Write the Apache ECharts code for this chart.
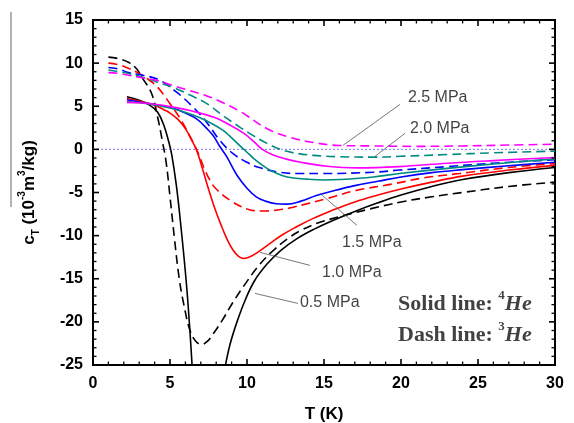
<!DOCTYPE html>
<html><head><meta charset="utf-8">
<script src="https://cdn.jsdelivr.net/npm/echarts@6/dist/echarts.min.js"></script>
<style>html,body{margin:0;padding:0;background:#fff}#c{width:574px;height:423px}</style>
</head><body><div id="c"></div>
<script>
// ---- data: [T (K), c_T (1e-3 m^3/kg)] ----
const he4_05 = [[2.2,6.1],[3.0,5.7],[3.7,5.1],[4.2,4.3],[4.6,2.8],[4.9,1.0],[5.1,-0.5],[5.4,-4.0],[5.65,-7.9],[6.1,-16.3],[6.45,-25.5],null,[8.55,-25.5],[8.9,-22.6],[9.35,-20.0],[9.9,-17.4],[10.5,-15.2],[11.3,-13.3],[12.2,-11.7],[13.2,-10.4],[14.3,-9.3],[15.5,-8.3],[17,-7.2],[18.5,-6.2],[20,-5.3],[22,-4.3],[24,-3.5],[27,-2.7],[30,-2.1]];
const he3_05 = [[1.0,10.7],[1.7,10.5],[2.3,10.1],[2.8,9.4],[3.2,8.3],[3.8,6.5],[4.2,3.7],[4.5,1.0],[4.75,-1.5],[5.0,-5.5],[5.3,-10.5],[5.6,-15],[5.9,-18],[6.3,-21],[6.7,-22.3],[7.05,-22.6],[7.4,-22.3],[7.8,-21.4],[8.4,-19.8],[9.1,-17.7],[10,-15.3],[10.8,-13.4],[11.6,-11.9],[12.6,-10.4],[13.5,-9.4],[14.5,-8.6],[16,-7.8],[18,-6.9],[20,-6.1],[22,-5.5],[24,-5.0],[27,-4.3],[30,-3.8]];
const he4_10 = [[2.2,5.9],[3.0,5.6],[3.7,5.3],[4.15,5.0],[4.6,4.6],[5.0,4.2],[5.5,3.5],[6.0,2.4],[6.4,1.1],[6.75,-0.2],[7.1,-2.2],[7.5,-4.6],[7.9,-6.8],[8.3,-8.7],[8.7,-10.4],[9.1,-11.7],[9.45,-12.4],[9.8,-12.65],[10.2,-12.45],[10.8,-11.8],[11.5,-10.9],[12.3,-9.9],[13.2,-9.0],[14.3,-8.0],[15.5,-7.1],[17,-6.1],[18.5,-5.3],[20,-4.6],[22,-3.8],[24,-3.1],[27,-2.4],[30,-1.85]];
const he3_10 = [[1.0,10.0],[1.7,9.8],[2.3,9.4],[3.0,8.8],[3.6,8.1],[4.2,7.2],[5.0,5.3],[5.65,3.6],[6.3,1.5],[6.8,-0.3],[7.2,-2.1],[7.6,-3.6],[8.0,-4.6],[8.9,-5.9],[10,-6.9],[11,-7.15],[12.3,-6.95],[13,-6.7],[15.2,-5.7],[17,-4.8],[19.5,-4.0],[21.5,-3.3],[23.8,-2.8],[27,-2.1],[30,-1.65]];
const he4_15 = [[2.2,5.75],[3.0,5.5],[4.0,5.2],[5.2,4.8],[6.0,4.2],[6.75,3.5],[7.4,2.4],[7.8,1.6],[8.25,0.3],[8.7,-0.9],[9.35,-3.0],[10,-4.5],[10.6,-5.5],[11.2,-6.0],[11.9,-6.3],[12.6,-6.35],[13.5,-6.0],[14.5,-5.35],[15.5,-4.85],[17,-4.2],[18.5,-3.7],[20,-3.2],[22,-2.7],[24,-2.35],[27,-1.9],[30,-1.5]];
const he3_15 = [[1.0,9.5],[1.7,9.3],[2.3,8.9],[3.25,8.6],[4.35,8.0],[5.45,6.6],[6.5,4.9],[7.4,3.1],[8.25,1.0],[9.1,-0.5],[10,-1.5],[10.8,-2.1],[12.1,-2.65],[13.5,-2.8],[14.9,-2.8],[18.2,-2.65],[19.9,-2.4],[23,-2.0],[26,-1.6],[30,-1.2]];
const he4_20 = [[2.2,5.55],[3.0,5.4],[4.2,5.1],[5.2,4.7],[6.3,4.1],[7.4,3.3],[8.45,2.2],[8.9,1.5],[9.55,0.4],[10.1,-0.5],[10.6,-1.3],[11.3,-2.2],[11.7,-2.6],[12.6,-3.2],[13.9,-3.45],[15,-3.55],[16,-3.5],[18.2,-3.2],[19.9,-2.8],[23,-2.2],[26,-1.7],[30,-1.1]];
const he3_20 = [[1.0,9.2],[1.7,9.0],[2.3,8.8],[3.2,8.4],[4.15,7.8],[5.2,7.2],[6.3,6.3],[7.4,5.3],[8.45,3.9],[9.6,2.5],[10.4,1.6],[11.3,0.7],[12.1,0.05],[12.9,-0.35],[14.3,-0.7],[16,-0.85],[18.2,-0.9],[20,-0.8],[23,-0.6],[26,-0.4],[30,-0.2]];
const he4_25 = [[2.2,5.45],[3.0,5.4],[4.15,5.2],[5.2,4.9],[6.3,4.5],[7.9,3.7],[8.7,3.0],[9.8,1.85],[10.5,0.8],[11.0,0.0],[11.7,-0.65],[12.5,-1.1],[13.5,-1.5],[15.2,-1.95],[17.1,-2.15],[19.9,-2.0],[23,-1.6],[26,-1.3],[30,-0.95]];
const he3_25 = [[1.0,8.9],[1.7,8.8],[2.3,8.6],[3.2,8.3],[4.15,8.0],[5.2,7.4],[6.3,6.8],[7.4,6.2],[8.45,5.4],[9.55,4.4],[10,3.9],[11.3,2.4],[12.6,1.5],[14.3,0.8],[16,0.45],[18.2,0.4],[21,0.35],[24,0.4],[27,0.5],[30,0.6]];
const zeroLine = [[0,0],[30,0]];
// axis ticks
const xMajorTicks = [0,5,10,15,20,25,30];
const yMajorTicks = [-25,-20,-15,-10,-5,0,5,10,15];
const minorPerMajor = 5;
// pressure annotations
const pressureLabels = ['2.5 MPa','2.0 MPa','1.5 MPa','1.0 MPa','0.5 MPa'];
const leaderFrom = [[16.23,0.46],[18.31,-0.81],[14.74,-5.10],[10.84,-11.94],[10.52,-16.70]];
const leaderTo   = [[19.94,5.22],[20.26,1.86],[17.14,-8.81],[14.09,-13.45],[13.31,-17.86]];
const labelPos   = [[20.45,6.03],[20.58,2.43],[16.17,-10.78],[14.87,-14.26],[13.44,-17.74]];
const noteText = ['{b|Solid line: }{s|4}{i|He}','{b|Dash line: }{s|3}{i|He}'];
const notePos = [[19.81,-17.74],[19.81,-21.33]];

const colors = {k:'#000000', r:'#ff0000', b:'#0000ff', t:'#008b80', m:'#ff00ff'};
const chart = echarts.init(document.getElementById('c'), null, {renderer:'canvas'});

function curve(data, color, dashed){
  return {type:'line', data:data, xAxisIndex:0, yAxisIndex:0, showSymbol:false, symbol:'none',
    smooth:0.4, connectNulls:false, clip:true, silent:true,
    lineStyle:{color:color, width:1.6, type: dashed ? [9,5] : 'solid'}, z:3};
}
const series = [
  {type:'line', data:zeroLine, showSymbol:false, symbol:'none', silent:true,
   lineStyle:{color:'#8f8fff', width:1.2, type:[2,2]}, z:2},
  curve(he3_05, colors.k, true), curve(he3_10, colors.r, true), curve(he3_15, colors.b, true),
  curve(he3_20, colors.t, true), curve(he3_25, colors.m, true),
  curve(he4_05, colors.k, false), curve(he4_10, colors.r, false), curve(he4_15, colors.b, false),
  curve(he4_20, colors.t, false), curve(he4_25, colors.m, false)
];
pressureLabels.forEach((lab,i)=>{
  series.push({type:'line', data:[leaderFrom[i], leaderTo[i]], showSymbol:false, symbol:'none', silent:true,
    lineStyle:{color:'#555', width:0.8}, z:4});
});
series.push({type:'scatter', symbolSize:0, silent:true, z:5,
  data: pressureLabels.map((lab,i)=>[labelPos[i][0], labelPos[i][1], lab]),
  label:{show:true, position:'right', distance:0, formatter:p=>p.data[2],
    fontFamily:'Liberation Sans, Arial, sans-serif', fontSize:16, color:'#111'}});
const serif = 'Liberation Serif, Times New Roman, serif';
series.push({type:'scatter', symbolSize:0, silent:true, z:5,
  data: noteText.map((t,i)=>[notePos[i][0], notePos[i][1], t]),
  label:{show:true, position:'right', distance:0, formatter:p=>p.data[2],
    rich:{
      b:{fontFamily:serif, fontWeight:'bold', fontSize:22, color:'#111', lineHeight:26, verticalAlign:'bottom'},
      s:{fontFamily:serif, fontWeight:'bold', fontSize:13, color:'#111', lineHeight:26, verticalAlign:'top'},
      i:{fontFamily:serif, fontWeight:'bold', fontStyle:'italic', fontSize:22, color:'#111', lineHeight:26, verticalAlign:'bottom'}
    }}});

// inward ticks on all four sides, drawn by a custom series through the chart's own scales
const xMin = xMajorTicks[0], xMax = xMajorTicks[xMajorTicks.length-1];
const yMin = yMajorTicks[0], yMax = yMajorTicks[yMajorTicks.length-1];
const xStep = (xMajorTicks[1]-xMajorTicks[0])/minorPerMajor;
const yStep = (yMajorTicks[1]-yMajorTicks[0])/minorPerMajor;
const tickData = [];
for (let i=0; i<=Math.round((xMax-xMin)/xStep); i++) tickData.push([xMin + i*xStep, 0, i % minorPerMajor === 0 ? 1 : 0]);
for (let i=0; i<=Math.round((yMax-yMin)/yStep); i++) tickData.push([yMin + i*yStep, 1, i % minorPerMajor === 0 ? 1 : 0]);
series.push({type:'custom', silent:true, clip:false, z:10, data:tickData,
  renderItem:function(params, api){
    const v = api.value(0), kind = api.value(1), major = api.value(2) === 1;
    const len = major ? 6 : 3.5, lw = major ? 1.6 : 1.3;
    let shapes;
    if (kind === 0){
      const a = api.coord([v, yMin]), b = api.coord([v, yMax]);
      shapes = [{x1:a[0], y1:a[1], x2:a[0], y2:a[1]-len}, {x1:b[0], y1:b[1], x2:b[0], y2:b[1]+len}];
    } else {
      const a = api.coord([xMin, v]), b = api.coord([xMax, v]);
      shapes = [{x1:a[0], y1:a[1], x2:a[0]+len, y2:a[1]}, {x1:b[0], y1:b[1], x2:b[0]-len, y2:b[1]}];
    }
    return {type:'group', children: shapes.map(s=>({type:'line', shape:s, style:{stroke:'#000', lineWidth:lw}}))};
  }});

function ax(extra){
  return Object.assign({type:'value',
    axisLine:{show:false, onZero:false},
    axisTick:{show:false},
    minorTick:{show:false},
    splitLine:{show:false}}, extra);
}
const sans = 'Liberation Sans, Arial, sans-serif';
function labelFont(m){ return {show:true, margin:m, fontFamily:sans, fontWeight:'bold', fontSize:16, color:'#000'}; }

const option = {
  animation:false,
  grid:{left:93, right:19, top:20, bottom:58, containLabel:false, outerBoundsMode:'none',
        show:true, borderColor:'#000', borderWidth:2, backgroundColor:'transparent'},
  xAxis:[
    ax({min:0, max:30, interval:5, position:'bottom',
      axisLabel:labelFont(11),
      name:'T (K)', nameLocation:'middle', nameGap:41,
      nameTextStyle:{fontFamily:sans, fontWeight:'bold', fontSize:17, color:'#000'}})
  ],
  yAxis:[
    ax({min:-25, max:15, interval:5, position:'left',
      axisLabel:labelFont(10),
      name:'{b|c}{sub|T}{b| (10}{sup|-3}{b|m}{sup|3}{b|/kg)}', nameLocation:'middle', nameRotate:90, nameGap:52,
      nameTextStyle:{rich:{
        b:{fontFamily:sans, fontWeight:'bold', fontSize:17, color:'#000', lineHeight:24, verticalAlign:'middle'},
        sub:{fontFamily:sans, fontWeight:'bold', fontSize:10, color:'#000', lineHeight:24, verticalAlign:'bottom'},
        sup:{fontFamily:sans, fontWeight:'bold', fontSize:10, color:'#000', lineHeight:24, verticalAlign:'top'}
      }}})
  ],
  graphic:[{type:'line', shape:{x1:11, y1:12, x2:11, y2:207}, style:{stroke:'#666', lineWidth:1}, silent:true}],
  series:series
};
chart.setOption(option);
</script></body></html>
